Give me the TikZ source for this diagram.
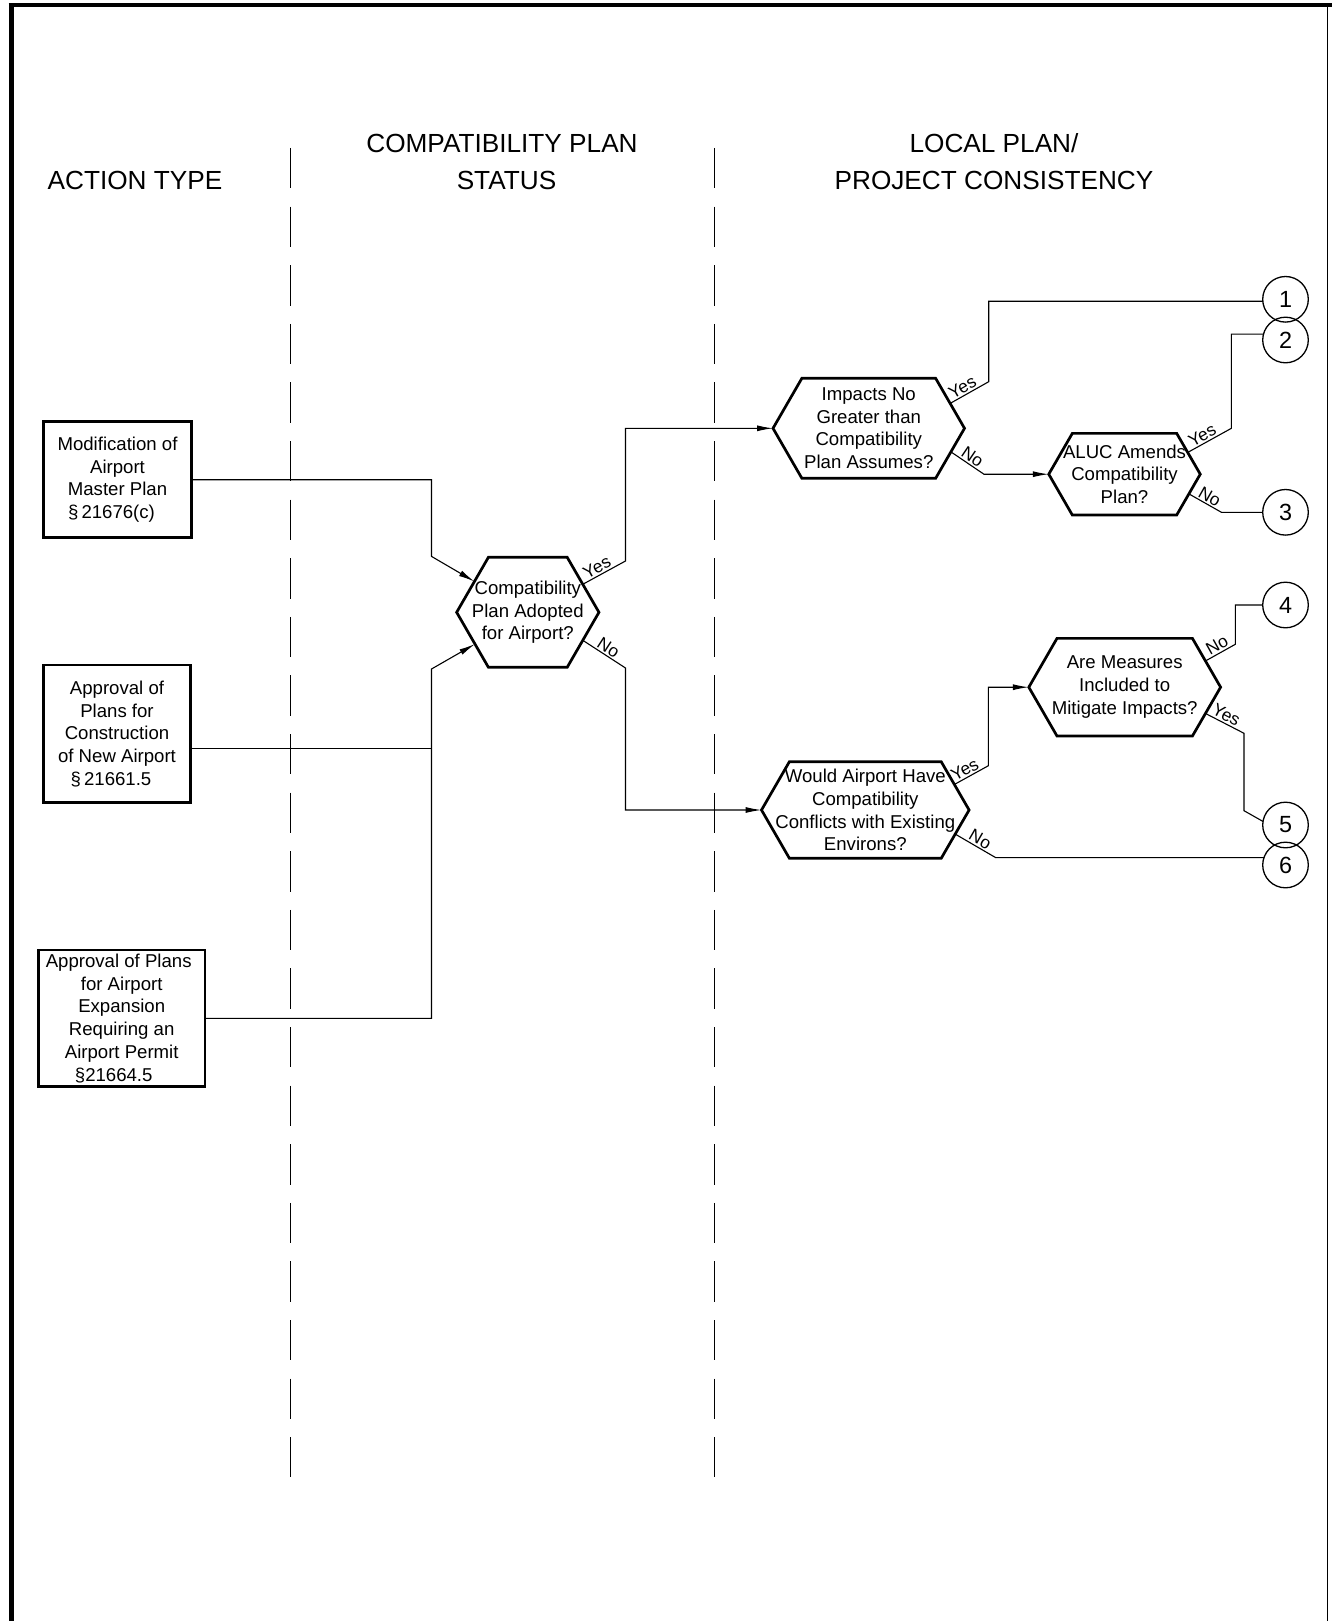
\documentclass[tikz,border=0pt]{standalone}
\usepackage{fontspec}
\setmainfont{Liberation Sans}
\usetikzlibrary{shapes.symbols,arrows.meta,calc}

\begin{document}
\begin{tikzpicture}[x=0.5pt,y=-0.5pt,
  every node/.style={inner sep=0pt, outer sep=0pt},
  conn/.style={line width=0.55pt},
  arr/.style={conn, -{Latex[length=8pt,width=3pt]}},
  actbox/.style={draw, line width=1.3pt, align=center,
    font=\fontsize{9.3}{11.35}\selectfont},
  decide/.style={draw, line width=1.35pt, shape=signal,
    signal to=east and west, signal pointer angle=120, line join=miter},
  hextext/.style={align=center, font=\fontsize{9.3}{11.35}\selectfont},
  endpt/.style={draw, circle, line width=0.65pt, minimum size=22.8pt,
    font=\fontsize{11.7}{12}\selectfont},
  answer/.style={font=\fontsize{8.7}{9}\selectfont, sloped, above=1pt},
  head/.style={anchor=base, font=\fontsize{13.1}{16}\selectfont},
  lane/.style={line width=0.7pt, dash pattern=on 20.15pt off 9.15pt}
]
\useasboundingbox (0,0) rectangle (1332,1621);
\fill[white] (0,0) rectangle (1332,1621);

% sheet frame (open at the bottom)
\draw[line width=2.5pt] (11,1621) -- (11,5);
\draw[line width=1.9pt] (8.5,5) -- (1332,5);
\draw[line width=0.5pt] (1327.7,5) -- (1327.7,1621);

% lane separators
\draw[lane] (290.7,148) -- (290.7,1477);
\draw[lane] (714.6,148) -- (714.6,1477);

% column headings
\node[head] (hA)  at (135,189.4) {ACTION TYPE};
\node[head] (hB1) at (502,152.1) {COMPATIBILITY PLAN};
\node[head] (hB2) at (506.5,189.4) {STATUS};
\node[head] (hC1) at (994,152.1) {LOCAL PLAN/};
\node[head] (hC2) at (994,189.4) {PROJECT CONSISTENCY};

% action types
\node[actbox, minimum width=74.2pt, minimum height=58pt] (A) at (117.5,479.7)
  {Modification of\\Airport\\Master Plan\\§\,21676(c)\hspace*{6pt}};
\node[actbox, minimum width=73.7pt, minimum height=68.85pt] (B) at (117,733.9)
  {Approval of\\Plans for\\Construction\\of New Airport\\§\,21661.5\hspace*{6pt}};
\node[actbox, minimum width=83.35pt, minimum height=68.35pt] (C) at (121.7,1018.3)
  {Approval of Plans\hspace*{3pt}\\for Airport\hspace*{3pt}\\Expansion\hspace*{3pt}\\Requiring an\hspace*{3pt}\\Airport Permit\hspace*{3pt}\\§21664.5\hspace*{8pt}};

% decisions
\node[decide, minimum width=71.15pt, minimum height=55pt,
  label={[hextext]center:{Compatibility\\Plan Adopted\\for Airport?}}] (H1) at (527.8,612.3) {};
\node[decide, minimum width=95.75pt, minimum height=50pt,
  label={[hextext]center:{Impacts No\\Greater than\\Compatibility\\Plan Assumes?}}] (H2) at (868.75,428.3) {};
\node[decide, minimum width=75.75pt, minimum height=40.85pt,
  label={[hextext]center:{ALUC Amends\\Compatibility\\Plan?}}] (H3) at (1124.5,474.2) {};
\node[decide, minimum width=95.9pt, minimum height=48.85pt,
  label={[hextext]center:{Are Measures\\Included to\\Mitigate Impacts?}}] (H4) at (1124.7,687.2) {};
\node[decide, minimum width=103.8pt, minimum height=48.3pt,
  label={[hextext]center:{Would Airport Have\\Compatibility\\Conflicts with Existing\\Environs?}}] (H5) at (865.3,810) {};

% outcomes
\node[endpt] (c1) at (1285.5,299.3) {1};
\node[endpt] (c2) at (1285.5,340) {2};
\node[endpt] (c3) at (1285.5,512.3) {3};
\node[endpt] (c4) at (1285.5,605) {4};
\node[endpt] (c5) at (1285.5,825) {5};
\node[endpt] (c6) at (1285.5,865) {6};

% bends
\coordinate (aBend) at (431.5,556.4);
\coordinate (cBend) at (431.5,669);
\coordinate (jB)    at (431.5,748.3);
\coordinate (e1y) at (625.5,561);
\coordinate (e1n) at (625.5,668);
\coordinate (e2y) at (988.7,381.7);
\coordinate (e2n) at (983.9,0);
\coordinate (e3y) at (1231.4,428.3);
\coordinate (e3n) at (1221.4,0);
\coordinate (e4n) at (1235.3,644.3);
\coordinate (e4y) at (1244,733.3);
\coordinate (e4y2) at (1244,810.7);
\coordinate (e5y) at (988.4,765.7);
\coordinate (e5n) at (995.6,0);

% action types into the first decision
\draw[arr] (A.east) -- (A.east -| aBend) -- (aBend) -- (H1.150);
\draw[arr] (C.east) -- (C.east -| cBend) -- (cBend) -- (H1.211);
\draw[conn] (B.east |- jB) -- (jB);

% decision branches
\draw[arr] (H1.27.6) -- node[answer, pos=0.42]{Yes} (e1y) |- (H2.west);
\draw[arr] (H1.333.4) -- node[answer, pos=0.5]{No} (e1n) |- (H5.west);

\draw[conn] (H2.17.4) -- node[answer, pos=0.42]{Yes} (e2y) |- (c1.185);
\draw[arr] (H2.344.3) -- node[answer, pos=0.52]{No} (H3.west -| e2n) -- (H3.west);

\draw[conn] (H3.19) -- node[answer, pos=0.42]{Yes} (e3y) |- (c2.165);
\draw[conn] (H3.343.2) -- node[answer, pos=0.52]{No} (c3.west -| e3n) -- (c3.west);

\draw[conn] (H4.18.1) -- node[answer, pos=0.52]{No} (e4n) |- (c4.west);
\draw[conn] (H4.342.6) -- node[answer, pos=0.45]{Yes} (e4y) -- (e4y2) -- (c5.171);

\draw[arr] (H5.16.6) -- node[answer, pos=0.42]{Yes} (e5y) |- (H4.west);
\draw[conn] (H5.345.8) -- node[answer, pos=0.52]{No} (c6.161 -| e5n) -- (c6.161);
\end{tikzpicture}
\end{document}
